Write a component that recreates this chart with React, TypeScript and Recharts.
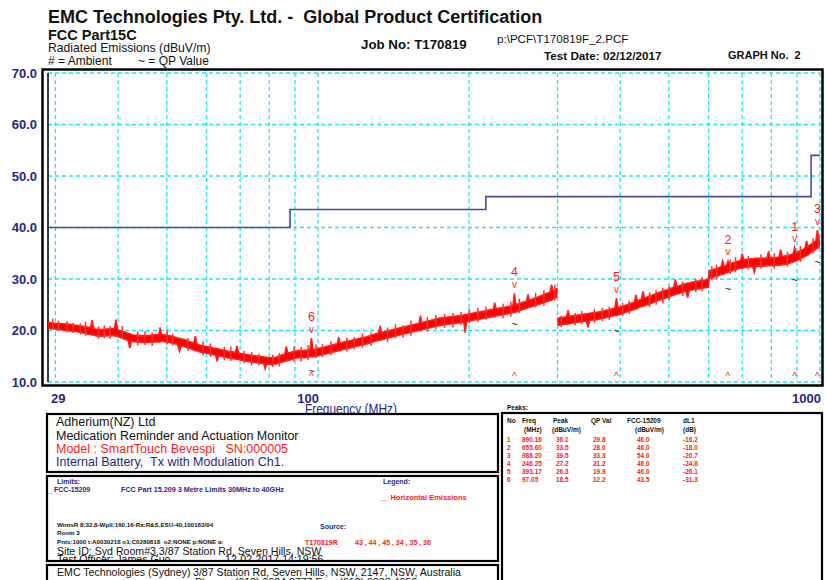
import React from 'react';
import { ComposedChart, Area, Bar, Line, Scatter, XAxis, YAxis, CartesianGrid } from 'recharts';

// ---------- data ----------
// segment 1: 29 - 300 MHz, core band of the peak trace (low / high edge, dBuV/m)
const seg1Freq = [29,30,31,32,33,34,35,35.25,35.5,35.75,36,37,38,39,39.3,39.6,39.9,40,41.5,41.9,42.2,42.5,43,44.5,46,47.5,48.2,48.5,48.8,49,50.5,52,52.6,53,53.4,54,56,56.6,57,57.4,58,60,62,62.6,63,63.4,64,66,68,68.5,69,69.5,70,72.5,75,77.5,78,78.5,79,80,82.5,85,85.9,86.5,87.1,88,91,94,96.4,97.05,97.7,100,104,108,109.3,110,110.7,112,116,120,125,130,132.1,133,133.9,135,140,145,150,156,159,160,161,162,168,175,182,189,195.2,196.5,197.8,204,212,220,223.5,225,226.5,229,238,244.6,246.25,247.9,256,260.2,262,263.8,266,276,287,290,292,294,298,300];
const seg1Low = [20.4,20.3,20.1,19.9,19.8,19.5,19.3,19.3,19.1,19.2,19.0,18.9,19.0,19.0,19.0,18.9,18.9,18.8,18.2,18.0,16.6,17.9,17.8,17.7,17.7,17.8,17.8,17.8,17.9,17.9,17.7,17.4,17.2,16.0,17.0,16.9,16.4,16.2,16.1,16.1,15.9,15.6,15.3,15.2,14.0,15.1,15.0,14.7,14.5,14.5,14.4,14.4,14.3,14.0,13.8,13.6,13.6,12.6,13.5,13.4,13.5,13.9,14.0,14.1,14.2,14.3,14.7,14.7,14.9,14.9,14.9,15.1,15.5,15.9,16.0,16.1,16.1,16.3,16.6,17.0,17.4,17.9,18.1,18.1,18.2,18.3,18.7,19.1,19.4,19.8,20.0,20.0,20.1,20.2,20.6,21.0,21.2,21.4,21.6,19.6,21.7,22.0,22.3,22.6,22.7,22.7,22.8,22.9,23.2,23.5,23.5,23.6,24.1,24.3,24.4,24.5,24.6,25.1,25.7,25.8,25.9,26.1,26.4,26.5];
const seg1High = [21.6,21.4,21.3,21.2,21.0,20.8,20.6,20.6,22.0,20.5,20.3,20.2,20.3,20.4,20.3,22.1,20.2,20.1,19.6,19.4,19.4,19.2,19.1,19.0,19.0,19.2,19.2,20.6,19.2,19.2,19.0,18.7,18.5,18.5,18.4,18.3,17.7,17.6,18.9,17.4,17.2,16.9,16.6,16.5,16.5,16.4,16.3,16.0,15.8,15.8,17.0,15.7,15.6,15.3,15.1,14.9,14.9,14.8,14.8,14.7,14.8,15.3,15.4,16.9,15.6,15.7,16.1,16.1,16.3,18.5,16.3,16.5,16.9,17.3,17.4,18.7,17.5,17.7,18.0,18.4,18.8,19.3,19.5,20.9,19.6,19.7,20.1,20.5,20.8,21.2,21.4,22.9,21.5,21.6,22.0,22.4,22.6,22.8,23.0,23.1,23.1,23.4,23.7,24.0,24.1,25.4,24.2,24.3,24.6,24.9,27.2,25.0,25.5,25.7,27.0,25.9,26.0,26.6,27.3,27.5,28.9,27.7,28.0,28.2];

// segment 2: 300 - 1000 MHz
const seg2Freq = [300,310,312.8,315,317.2,320,330,340,342.6,345,347.4,350,362,374,386,390.4,393.17,396,398,410,423,427,430,433,436,441,444,447,450,464,478,493,508,511.4,515,518.6,524,540,541.2,545,548.8,557,574,590,599,602,615,629,635.5,640,644.5,648,651.4,656,660.6,668,688,695,700,705,709,730,734.8,740,745.2,752,775,784.5,790,795.5,798,822,829,835,841,847,873,884,890.16,896.4,900,927,933.4,940,946.6,955,981.3,988.2,995.1,1000];
const seg2Low = [21.0,21.2,21.2,21.3,21.3,21.4,21.6,21.8,21.8,20.6,21.9,22.0,22.2,22.5,22.8,22.9,22.9,23.0,23.1,23.5,24.0,24.1,24.2,24.3,24.5,24.6,24.7,24.8,24.9,25.4,25.9,26.3,26.8,26.9,27.0,27.1,27.2,27.6,27.6,26.4,27.7,27.9,28.1,28.3,28.4,30.1,30.4,30.7,30.9,30.9,31.0,31.1,31.2,31.3,31.4,31.6,32.0,32.1,32.1,32.2,32.3,32.4,32.4,31.3,32.5,32.5,32.5,32.6,32.6,32.6,32.6,32.7,32.7,32.7,32.8,32.8,33.1,33.3,33.4,33.5,33.6,34.2,34.4,34.5,34.7,35.0,35.8,36.0,36.2,36.4];
const seg2High = [22.4,22.6,22.7,23.9,22.7,22.8,23.0,23.2,23.2,23.3,23.3,23.4,23.6,23.9,24.2,24.3,26.3,24.4,24.5,24.9,25.4,25.5,26.9,25.7,25.9,26.1,27.6,26.3,26.4,26.9,27.4,27.8,28.3,28.4,29.9,28.6,28.7,29.1,29.1,29.2,29.2,29.4,29.6,29.8,30.0,31.6,31.9,32.2,32.4,33.5,32.5,32.6,32.7,33.5,32.9,33.1,33.5,33.6,34.9,33.7,33.8,33.9,33.9,34.0,34.0,34.0,34.0,34.1,35.4,34.1,34.1,34.2,34.3,35.7,34.3,34.4,34.7,34.9,36.1,35.1,35.2,35.8,36.0,37.4,36.3,36.6,37.4,39.5,37.8,38.0];

// individual noise excursions of the trace (frequency, min, max)
const spikeFreq = [29.6,30.4,31.6,32.5,33.6,34.4,36.5,37.5,38.5,40.7,43.7,45.2,46.7,50,51.3,55,59,61,65,67,71.2,73.7,76.2,81.2,83.7,89.5,92.5,95.5,99,102,106,114,118,122.5,127.5,137.5,142.5,147.5,153,165,171.5,178.5,185.5,192.5,200,208,216,233.5,242,251.5,271,281.5,296,305,325,335,355,368,380,404,416.5,457,471,485.5,500,532,565,582,608,622,662,678,719,762,810,860,913,968,993];
const spikeLow = [20.2,19.9,19.6,19.5,19.2,19.0,18.4,18.5,18.4,18.3,17.1,17.2,17.0,17.3,17.1,16.0,15.2,14.9,14.2,14.1,13.6,13.2,13.2,12.9,13.0,14.0,14.0,14.2,14.6,14.8,15.2,15.9,16.3,16.6,17.0,17.8,18.5,18.6,19.0,19.8,20.3,20.5,20.6,21.0,21.4,21.6,22.1,22.4,22.7,23.4,24.5,24.8,25.8,20.7,21.0,21.2,21.5,21.8,22.0,22.8,23.2,24.5,25.0,25.3,25.9,26.7,27.5,27.6,29.7,30.0,31.0,31.3,31.8,32.0,32.0,32.4,33.3,34.9,35.9];
const spikeHigh = [22.3,21.9,21.8,21.5,21.4,21.7,20.8,21.0,20.9,20.9,19.8,19.9,19.6,20.2,19.4,18.6,17.9,17.5,16.8,16.9,16.0,15.8,15.5,15.3,15.6,16.9,16.8,17.2,17.3,17.4,17.9,18.6,18.7,19.4,19.6,20.6,21.2,21.0,21.9,22.6,23.0,23.2,23.4,23.6,24.2,24.4,24.6,25.2,25.6,26.2,27.3,27.8,28.9,22.9,23.4,23.8,24.2,24.4,24.6,25.4,25.8,27.4,27.8,28.3,28.6,29.5,30.0,30.4,32.5,32.8,33.8,34.2,34.5,34.8,35.0,35.3,36.4,37.9,38.6];

// FCC 15.209 limit line
const limitFreq = [29, 88, 216, 960, 1000];
const limitLevel = [40, 43.5, 46, 54, 54];

// peaks table
const peakNo = [1, 2, 3, 4, 5, 6];
const peakFreq = [890.16, 655.60, 988.20, 246.25, 393.17, 97.05];
const peakLevel = [36.1, 33.5, 39.5, 27.2, 26.3, 18.5];
const qpLevel = [29.8, 28.0, 33.3, 21.2, 19.9, 12.2];
const fccLimit = [46.0, 46.0, 54.0, 46.0, 46.0, 43.5];
const deltaL1 = [-16.2, -18.0, -20.7, -24.8, -26.1, -31.3];

// axes
const yMin = 10;
const yMax = 70;
const yTicks = [10, 20, 30, 40, 50, 60, 70];
const xGridTicks = [29, 30, 40, 50, 60, 70, 80, 90, 100, 200, 300, 400, 500, 600, 700, 800, 900, 1000];
const xTickLabels = [29, 100, 1000];

// ---------- derived tables ----------
const seg1Data = seg1Freq.map((f, i) => ({ f, band: [seg1Low[i], seg1High[i]] }));
const seg2Data = seg2Freq.map((f, i) => ({ f, band: [seg2Low[i], seg2High[i]] }));
const spikeData = spikeFreq.map((f, i) => ({ f, range: [spikeLow[i], spikeHigh[i]] }));
const limitData = limitFreq.map((f, i) => ({ f, lim: limitLevel[i] }));
const peakData = peakNo.map((no, i) => ({ no, f: peakFreq[i], peak: peakLevel[i], qp: qpLevel[i], floor: yMin }));

// ---------- styling ----------
const W = 826;
const H = 580;
const FONT = "'Liberation Sans', Arial, sans-serif";
const NAVY = '#26268c';
const RED = '#ff1a1a';
const CYAN = '#1ee6f2';
const mainMargin = { top: 73, right: 6, bottom: 168, left: 0 };
const overlayMargin = { top: 73, right: 6, bottom: 198, left: 48 };

function XTick(props: any) {
  const { x, y, payload } = props;
  const v = payload.value;
  if (!xTickLabels.includes(v)) return <g />;
  const first = v === xTickLabels[0];
  return (
    <text x={first ? x + 3 : x + 1} y={y + 8} textAnchor={first ? 'start' : 'end'} dominantBaseline="central"
      fill={NAVY} fontSize={13} fontWeight="bold" fontFamily={FONT}>{v}</text>
  );
}

function YTick(props: any) {
  const { x, y, payload } = props;
  return (
    <text x={x - 3} y={y} textAnchor="end" dominantBaseline="central" fill={NAVY} fontSize={13}
      fontWeight="bold" fontFamily={FONT}>{Number(payload.value).toFixed(1)}</text>
  );
}

const PeakShape = (p: any) => (
  <g>
    <text x={p.cx} y={p.cy - 21} textAnchor="middle" dominantBaseline="central" fill={RED} fontSize={12.5} fontFamily={FONT}>{p.payload.no}</text>
    <text x={p.cx} y={p.cy - 9} textAnchor="middle" dominantBaseline="central" fill={RED} fontSize={10} fontFamily={FONT}>v</text>
  </g>
);
const QpShape = (p: any) => (
  <text x={p.cx} y={p.cy} textAnchor="middle" dominantBaseline="central" fill="#111" fontSize={11} fontFamily={FONT}>~</text>
);
const FloorShape = (p: any) => (
  <text x={p.cx} y={p.cy - 6} textAnchor="middle" dominantBaseline="central" fill={RED} fontSize={10} fontFamily={FONT}>^</text>
);

const layer: React.CSSProperties = { position: 'absolute', left: 0, top: 0 };

function HiddenAxes() {
  return null;
}

function BandChart({ data }: { data: any[] }) {
  return (
    <div style={layer}>
      <ComposedChart width={W} height={H} data={data} margin={overlayMargin}>
        <XAxis type="number" dataKey="f" scale="log" domain={[29, 1000]} allowDataOverflow hide />
        <YAxis type="number" domain={[yMin, yMax]} allowDataOverflow hide />
        <Area type="linear" dataKey="band" stroke="#ff2020" strokeWidth={1.6} fill="#ff0000" fillOpacity={1}
          isAnimationActive={false} dot={false} activeDot={false} />
      </ComposedChart>
    </div>
  );
}

export default function App() {
  return (
    <div style={{ position: 'absolute', left: 0, top: 0, width: W, height: H, background: '#fff', overflow: 'hidden' }}>
      <div style={layer}>
        <ComposedChart width={W} height={H} data={limitData} margin={mainMargin}>
          <CartesianGrid stroke={CYAN} strokeWidth={1.3} strokeDasharray="4 3" />
          <XAxis type="number" dataKey="f" scale="log" domain={[29, 1000]} allowDataOverflow ticks={xGridTicks}
            interval={0} tick={<XTick />} tickLine={false} axisLine={false} height={30} />
          <YAxis type="number" domain={[yMin, yMax]} ticks={yTicks} interval={0} tick={<YTick />} tickLine={false}
            axisLine={{ stroke: '#000', strokeWidth: 1.5 }} width={48} />
          <Line type="stepAfter" dataKey="lim" stroke="#4a4a9e" strokeWidth={1.6} dot={false} isAnimationActive={false} />
        </ComposedChart>
      </div>
      <BandChart data={seg1Data} />
      <BandChart data={seg2Data} />
      <div style={layer}>
        <ComposedChart width={W} height={H} data={spikeData} margin={overlayMargin}>
          <XAxis type="number" dataKey="f" scale="log" domain={[29, 1000]} allowDataOverflow hide />
          <YAxis type="number" domain={[yMin, yMax]} allowDataOverflow hide />
          <Bar dataKey="range" barSize={1.5} fill="#ff3030" isAnimationActive={false} />
        </ComposedChart>
      </div>
      <div style={layer}>
        <ComposedChart width={W} height={H} data={peakData} margin={overlayMargin}>
          <XAxis type="number" dataKey="f" scale="log" domain={[29, 1000]} allowDataOverflow hide />
          <YAxis type="number" domain={[yMin, yMax]} allowDataOverflow hide />
          <Scatter data={peakData} dataKey="peak" shape={PeakShape} isAnimationActive={false} />
          <Scatter data={peakData} dataKey="qp" shape={QpShape} isAnimationActive={false} />
          <Scatter data={peakData} dataKey="floor" shape={FloorShape} isAnimationActive={false} />
        </ComposedChart>
      </div>
      <svg width={W} height={H} style={{ ...layer, pointerEvents: 'none' }} fontFamily={FONT}>
        <defs>
          <clipPath id="box2clip"><rect x={47} y={476} width={452} height={85} /></clipPath>
        </defs>
        {/* header */}
        <text x={48} y={17} dominantBaseline="central" fontSize={18} fontWeight="bold" fill="#111" style={{ whiteSpace: 'pre' }}>EMC Technologies Pty. Ltd. -  Global Product Certification</text>
        <text x={48} y={35} dominantBaseline="central" fontSize={14.5} fontWeight="bold" fill="#111">FCC Part15C</text>
        <text x={48} y={48} dominantBaseline="central" fontSize={12.2} fill="#111">Radiated Emissions (dBuV/m)</text>
        <text x={48} y={61} dominantBaseline="central" fontSize={12} fill="#111"># = Ambient</text>
        <text x={138} y={61} dominantBaseline="central" fontSize={12} fill="#111">~ = QP Value</text>
        <text x={361} y={44} dominantBaseline="central" fontSize={13.3} fontWeight="bold" fill="#111">Job No: T170819</text>
        <text x={497} y={38} dominantBaseline="central" fontSize={11.6} fill="#111">p:\PCF\T170819F_2.PCF</text>
        <text x={544} y={55} dominantBaseline="central" fontSize={11.7} fontWeight="bold" fill="#111">Test Date: 02/12/2017</text>
        <text x={728} y={55} dominantBaseline="central" fontSize={11} fontWeight="bold" fill="#111" style={{ whiteSpace: 'pre' }}>GRAPH No.  2</text>

        {/* plot frame */}
        <rect x={42.5} y={69.5} width={780} height={316} fill="none" stroke="#000" strokeWidth={2.5} />

        {/* axis title */}
        <text x={305} y={409} dominantBaseline="central" fontSize={14} fill={NAVY} textLength={92} lengthAdjust="spacingAndGlyphs">Frequency (MHz)</text>

        {/* box 1 */}
        <rect x={47} y={414} width={451} height={58} fill="#fff" stroke="#000" strokeWidth={2.2} />
        <text x={56} y={422} dominantBaseline="central" fontSize={12.5} fill="#111">Adherium(NZ) Ltd</text>
        <text x={56} y={436} dominantBaseline="central" fontSize={12.5} fill="#111">Medication Reminder and Actuation Monitor</text>
        <text x={56} y={449} dominantBaseline="central" fontSize={12.5} fill={RED} style={{ whiteSpace: 'pre' }}>Model : SmartTouch Bevespi   SN:000005</text>
        <text x={56} y={462} dominantBaseline="central" fontSize={12.5} fill={NAVY} style={{ whiteSpace: 'pre' }}>Internal Battery,  Tx with Modulation Ch1.</text>

        {/* box 2 */}
        <rect x={47} y={476} width={451} height={85} fill="#fff" stroke="#000" strokeWidth={2.2} />
        <g clipPath="url(#box2clip)">
          <text x={57} y={481} dominantBaseline="central" fontSize={7} fontWeight="bold" fill={NAVY}>Limits:</text>
          <text x={48} y={490} dominantBaseline="central" fontSize={7.5} fontWeight="bold" fill={NAVY}>_</text>
          <text x={54} y={489} dominantBaseline="central" fontSize={7} fontWeight="bold" fill={NAVY}>FCC-15209</text>
          <text x={121} y={489} dominantBaseline="central" fontSize={7.2} fontWeight="bold" fill={NAVY}>FCC Part 15.209 3 Metre Limits 30MHz to 40GHz</text>
          <text x={383} y={481} dominantBaseline="central" fontSize={7} fontWeight="bold" fill={NAVY}>Legend:</text>
          <text x={380} y={497} dominantBaseline="central" fontSize={7.5} fontWeight="bold" fill={RED} style={{ whiteSpace: 'pre' }}>__ Horizontal Emissions</text>
          <text x={57} y={524} dominantBaseline="central" fontSize={6.2} fontWeight="bold" fill="#111">WintsR 8:32.8-Wpll:160.16-Rx:R&amp;S,ESU-40,100183/04</text>
          <text x={57} y={532} dominantBaseline="central" fontSize={6.2} fontWeight="bold" fill="#111">Room 3</text>
          <text x={57} y={541} dominantBaseline="central" fontSize={6.2} fontWeight="bold" fill="#111" style={{ whiteSpace: 'pre' }}>Pnts:1000 t:A0030218 o1:C0280818  o2:NONE p:NONE a:</text>
          <text x={320} y={526} dominantBaseline="central" fontSize={7} fontWeight="bold" fill={NAVY}>Source:</text>
          <text x={305} y={542} dominantBaseline="central" fontSize={7} fontWeight="bold" fill={RED}>T170819R</text>
          <text x={355} y={542} dominantBaseline="central" fontSize={7} fontWeight="bold" fill={RED}>43 , 44 , 45 , 34 , 35 , 36</text>
          <text x={57} y={551} dominantBaseline="central" fontSize={10.6} fill="#111">Site ID: Syd Room#3,3/87 Station Rd, Seven Hills, NSW</text>
          <text x={57} y={559} dominantBaseline="central" fontSize={10.6} fill="#111">Test Officer: James Guo</text>
          <text x={225} y={559} dominantBaseline="central" fontSize={10.6} fill="#111">12-02-2017 14:19:56</text>
        </g>

        {/* box 3 */}
        <rect x={47} y={565} width={451} height={30} fill="#fff" stroke="#000" strokeWidth={2.2} />
        <text x={57} y={572} dominantBaseline="central" fontSize={10.6} fill="#111">EMC Technologies (Sydney)</text>
        <text x={193} y={572} dominantBaseline="central" fontSize={10.6} fill="#111">3/87 Station Rd, Seven Hills, NSW, 2147, NSW, Australia</text>
        <text x={195} y={582} dominantBaseline="central" fontSize={10.6} fill="#111">Phone +(612) 9624 2777 Fax+(612) 9838 4050</text>

        {/* peaks box */}
        <text x={507} y={407} dominantBaseline="central" fontSize={6.5} fontWeight="bold" fill="#111">Peaks:</text>
        <rect x={502} y={413} width={320} height={180} fill="#fff" stroke="#000" strokeWidth={2.2} />
        <g fontSize={6.5} fontWeight="bold" fill="#111">
          <text x={507} y={420} dominantBaseline="central">No</text>
          <text x={522} y={420} dominantBaseline="central">Freq</text>
          <text x={524} y={429} dominantBaseline="central">(MHz)</text>
          <text x={553} y={420} dominantBaseline="central">Peak</text>
          <text x={552} y={429} dominantBaseline="central">(dBuV/m)</text>
          <text x={591} y={420} dominantBaseline="central">QP Val</text>
          <text x={627} y={420} dominantBaseline="central">FCC-15209</text>
          <text x={635} y={429} dominantBaseline="central">(dBuV/m)</text>
          <text x={683} y={420} dominantBaseline="central">dL1</text>
          <text x={683} y={429} dominantBaseline="central">(dB)</text>
        </g>
        <g fontSize={6.5} fontWeight="bold" fill={RED}>
          {peakNo.map((n, i) => {
            const y = 439.3 + i * 8.1;
            return (
              <g key={n}>
                <text x={507} y={y} dominantBaseline="central">{n}</text>
                <text x={522} y={y} dominantBaseline="central">{peakFreq[i].toFixed(2)}</text>
                <text x={556} y={y} dominantBaseline="central">{peakLevel[i].toFixed(1)}</text>
                <text x={593} y={y} dominantBaseline="central">{qpLevel[i].toFixed(1)}</text>
                <text x={637} y={y} dominantBaseline="central">{fccLimit[i].toFixed(1)}</text>
                <text x={683} y={y} dominantBaseline="central">{deltaL1[i].toFixed(1)}</text>
              </g>
            );
          })}
        </g>
      </svg>
    </div>
  );
}
